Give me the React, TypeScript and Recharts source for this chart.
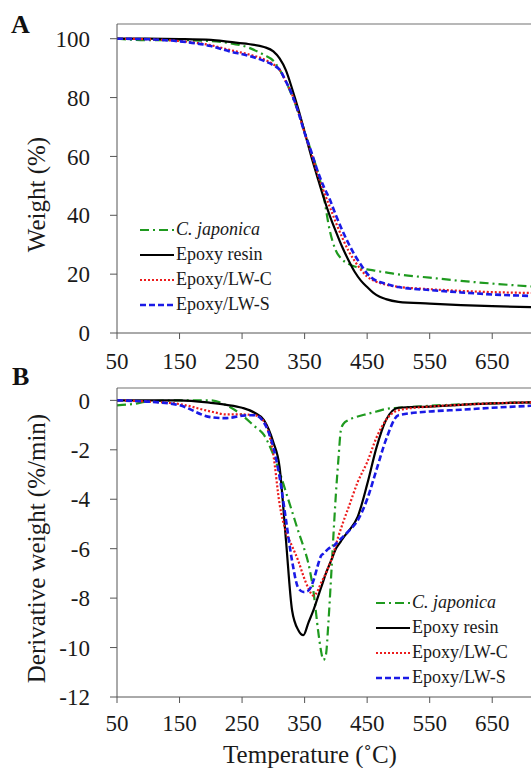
import React from "react";
import { LineChart, Line, XAxis, YAxis, ReferenceLine, Legend } from "recharts";

// TGA (weight %)
const tgaTemp = [50, 100, 150, 200, 230, 260, 285, 300, 310, 320, 330, 340, 350, 360, 370, 380, 390, 400, 410, 420, 430, 440, 450, 460, 470, 480, 500, 550, 600, 650, 712];
const tgaJaponica = [100, 99.5, 99.5, 99.2, 98.5, 97, 94.5, 92.5, 89.5, 85.5, 80.5, 75, 68.5, 62, 55.5, 47, 35, 28, 25, 23.5, 22.6, 22, 21.6, 21.3, 20.9, 20.6, 19.9, 18.8, 17.7, 16.8, 15.8];
const tgaEpoxy = [100, 100, 99.9, 99.6, 98.9, 98.2, 97.2, 95.7, 93.3, 89.3, 83, 76, 68.3, 60.5, 53.3, 46.3, 40, 34.5, 29.3, 24.8, 20.8, 17.8, 15.6, 13.6, 12.3, 11.5, 10.6, 10, 9.5, 9.1, 8.8];
const tgaLwc = [100, 99.8, 99.2, 97.8, 96.2, 94.7, 93, 91.3, 89.5, 85.5, 81, 75, 68, 61.5, 54.5, 48.5, 43, 37.5, 32.5, 28, 24.5, 21.5, 19.2, 17.8, 17, 16.4, 15.7, 14.9, 14.3, 13.9, 13.6];
const tgaLws = [100, 99.8, 99.1, 97.5, 95.7, 94.2, 92.5, 91, 89.5, 85.5, 81, 75, 68, 62, 55.5, 50, 45.5, 40, 35, 30.5, 26.5, 23.2, 20.2, 18.3, 17.3, 16.7, 15.6, 14.6, 13.8, 13.1, 12.6];

// DTG (%/min)
const dtgTemp = [50, 75, 100, 150, 200, 225, 250, 270, 285, 300, 310, 320, 330, 340, 348, 356, 364, 372, 376, 380, 384, 388, 392, 396, 400, 404, 408, 412, 420, 435, 450, 465, 480, 500, 550, 600, 650, 712];
const dtgJaponica = [-0.2, -0.15, -0.05, 0, 0, -0.2, -0.6, -1.05, -1.4, -2.2, -2.9, -3.7, -4.5, -5.3, -5.9, -6.6, -7.7, -9.4, -10.1, -10.5, -10.3, -9.0, -7.3, -5.5, -3.8, -2.4, -1.2, -0.95, -0.8, -0.65, -0.55, -0.45, -0.35, -0.3, -0.22, -0.16, -0.12, -0.08];
const dtgEpoxy = [0, 0, 0, 0, -0.1, -0.18, -0.3, -0.5, -0.8, -1.7, -2.7, -5.6, -8.5, -9.3, -9.5, -9.0, -8.5, -7.9, -7.6, -7.3, -7.0, -6.75, -6.5, -6.25, -6.0, -5.85, -5.7, -5.55, -5.3, -4.7, -3.4, -1.9, -0.8, -0.3, -0.25, -0.18, -0.12, -0.08];
const dtgLwc = [0, -0.02, -0.05, -0.15, -0.45, -0.57, -0.57, -0.6, -0.85, -2.2, -4.2, -5.3, -5.9, -6.5, -7.1, -7.6, -7.9, -7.65, -7.4, -7.2, -7.0, -6.75, -6.5, -6.2, -5.85, -5.5, -5.2, -4.9, -4.35, -3.3, -2.5, -1.5, -0.8, -0.4, -0.25, -0.18, -0.12, -0.08];
const dtgLws = [0, -0.02, -0.05, -0.2, -0.68, -0.72, -0.62, -0.6, -0.9, -1.9, -3.1, -4.8, -6.5, -7.6, -7.75, -7.7, -7.3, -6.6, -6.3, -6.2, -6.1, -6.0, -5.95, -5.9, -5.8, -5.7, -5.6, -5.5, -5.3, -4.85, -4.0, -2.8, -1.6, -0.6, -0.45, -0.38, -0.3, -0.22];

const xTicks = [50, 150, 250, 350, 450, 550, 650];
const tgaTicks = [0, 20, 40, 60, 80, 100];
const dtgTicks = [-12, -10, -8, -6, -4, -2, 0];

const series = [
    { key: "japonica", name: "C. japonica", italic: true, color: "#1f9a1f", dash: "9 4 2 4", width: 2.2 },
    { key: "epoxy", name: "Epoxy resin", italic: false, color: "#000000", dash: undefined, width: 2.2 },
    { key: "lwc", name: "Epoxy/LW-C", italic: false, color: "#ec1c1c", dash: "2 2", width: 2.2 },
    { key: "lws", name: "Epoxy/LW-S", italic: false, color: "#1a1ae6", dash: "6 3", width: 2.6 },
];

const tgaRows = tgaTemp.map((t, i) => ({ t, japonica: tgaJaponica[i], epoxy: tgaEpoxy[i], lwc: tgaLwc[i], lws: tgaLws[i] }));
const dtgRows = dtgTemp.map((t, i) => ({ t, japonica: dtgJaponica[i], epoxy: dtgEpoxy[i], lwc: dtgLwc[i], lws: dtgLws[i] }));

const serif = "'Liberation Serif', 'Times New Roman', serif";
const axisColor = "#555";
const tickStyle = { fill: "#1a1a1a", fontSize: 23, fontFamily: serif };

const LegendBox = () => (
    <div style={{ fontFamily: serif, fontSize: 18, color: "#1a1a1a" }}>
        {series.map((s) => (
            <div key={s.key} style={{ display: "flex", alignItems: "center", height: 25 }}>
                <svg width={34} height={12} style={{ marginRight: 2 }}>
                    <line x1={0} y1={6} x2={34} y2={6} stroke={s.color} strokeWidth={s.width} strokeDasharray={s.dash} />
                </svg>
                <span style={{ fontStyle: s.italic ? "italic" : "normal" }}>{s.name}</span>
            </div>
        ))}
    </div>
);

const YTitle = ({ viewBox, text, shift }: any) => {
    const cx = 45;
    const cy = viewBox.y + viewBox.height / 2 + shift;
    return (
        <text x={cx} y={cy} transform={`rotate(-90 ${cx} ${cy})`} textAnchor="middle" fontFamily={serif} fontSize={25} fill="#1a1a1a">
            {text}
        </text>
    );
};

const XTitle = ({ viewBox }: any) => (
    <text x={viewBox.x + viewBox.width / 2 - 14} y={viewBox.y + 66} textAnchor="middle" fontFamily={serif} fontSize={25} fill="#1a1a1a">
        Temperature (˚C)
    </text>
);

const renderLines = () =>
    series.map((s) => (
        <Line
            key={s.key}
            type="monotone"
            dataKey={s.key}
            name={s.name}
            stroke={s.color}
            strokeWidth={s.width}
            strokeDasharray={s.dash}
            dot={false}
            activeDot={false}
            isAnimationActive={false}
        />
    ));

const panelLabel: React.CSSProperties = { position: "absolute", fontFamily: serif, fontWeight: "bold", fontSize: 26, color: "#111", lineHeight: 1 };

export default function App() {
    return (
        <div style={{ position: "relative", width: 531, height: 768, background: "#fff" }}>
            <style>{`body{margin:0;}`}</style>
            <span style={{ ...panelLabel, left: 11, top: 12 }}>A</span>
            <span style={{ ...panelLabel, left: 12, top: 364 }}>B</span>

            {/* Panel A: weight loss */}
            <div style={{ position: "absolute", left: 0, top: 0 }}>
                <LineChart width={531} height={380} data={tgaRows} margin={{ top: 24, right: 0, left: 0, bottom: 0 }}>
                    <XAxis
                        dataKey="t"
                        type="number"
                        domain={[50, 712]}
                        ticks={xTicks}
                        allowDataOverflow
                        height={47}
                        stroke={axisColor}
                        tickSize={6}
                        tickMargin={14}
                        tick={tickStyle}
                    />
                    <YAxis
                        type="number"
                        domain={[0, 105]}
                        ticks={tgaTicks}
                        width={117}
                        stroke={axisColor}
                        tickSize={7}
                        tickMargin={20}
                        tick={tickStyle}
                        label={(props: any) => <YTitle {...props} text="Weight (%)" shift={16} />}
                    />
                    <ReferenceLine y={105} stroke="#a0a0a0" strokeWidth={1.5} />
                    <Legend
                        layout="horizontal"
                        verticalAlign="middle"
                        align="center"
                        content={() => <LegendBox />}
                        wrapperStyle={{ left: 140, top: 217, width: "auto" }}
                    />
                    {renderLines()}
                </LineChart>
            </div>

            {/* Panel B: derivative weight */}
            <div style={{ position: "absolute", left: 0, top: 380 }}>
                <LineChart width={531} height={388} data={dtgRows} margin={{ top: 8, right: 0, left: 0, bottom: 0 }}>
                    <XAxis
                        dataKey="t"
                        type="number"
                        domain={[50, 712]}
                        ticks={xTicks}
                        allowDataOverflow
                        height={71}
                        stroke={axisColor}
                        tickSize={6}
                        tickMargin={12}
                        tick={tickStyle}
                        label={(props: any) => <XTitle {...props} />}
                    />
                    <YAxis
                        type="number"
                        domain={[-12, 0.5]}
                        ticks={dtgTicks}
                        allowDataOverflow
                        width={117}
                        stroke={axisColor}
                        tickSize={7}
                        tickMargin={20}
                        tick={tickStyle}
                        label={(props: any) => <YTitle {...props} text="Derivative weight (%/min)" shift={6} />}
                    />
                    <ReferenceLine y={0.5} stroke="#a0a0a0" strokeWidth={1.5} />
                    <Legend
                        layout="horizontal"
                        verticalAlign="middle"
                        align="center"
                        content={() => <LegendBox />}
                        wrapperStyle={{ left: 376, top: 210, width: "auto" }}
                    />
                    {renderLines()}
                </LineChart>
            </div>
        </div>
    );
}
